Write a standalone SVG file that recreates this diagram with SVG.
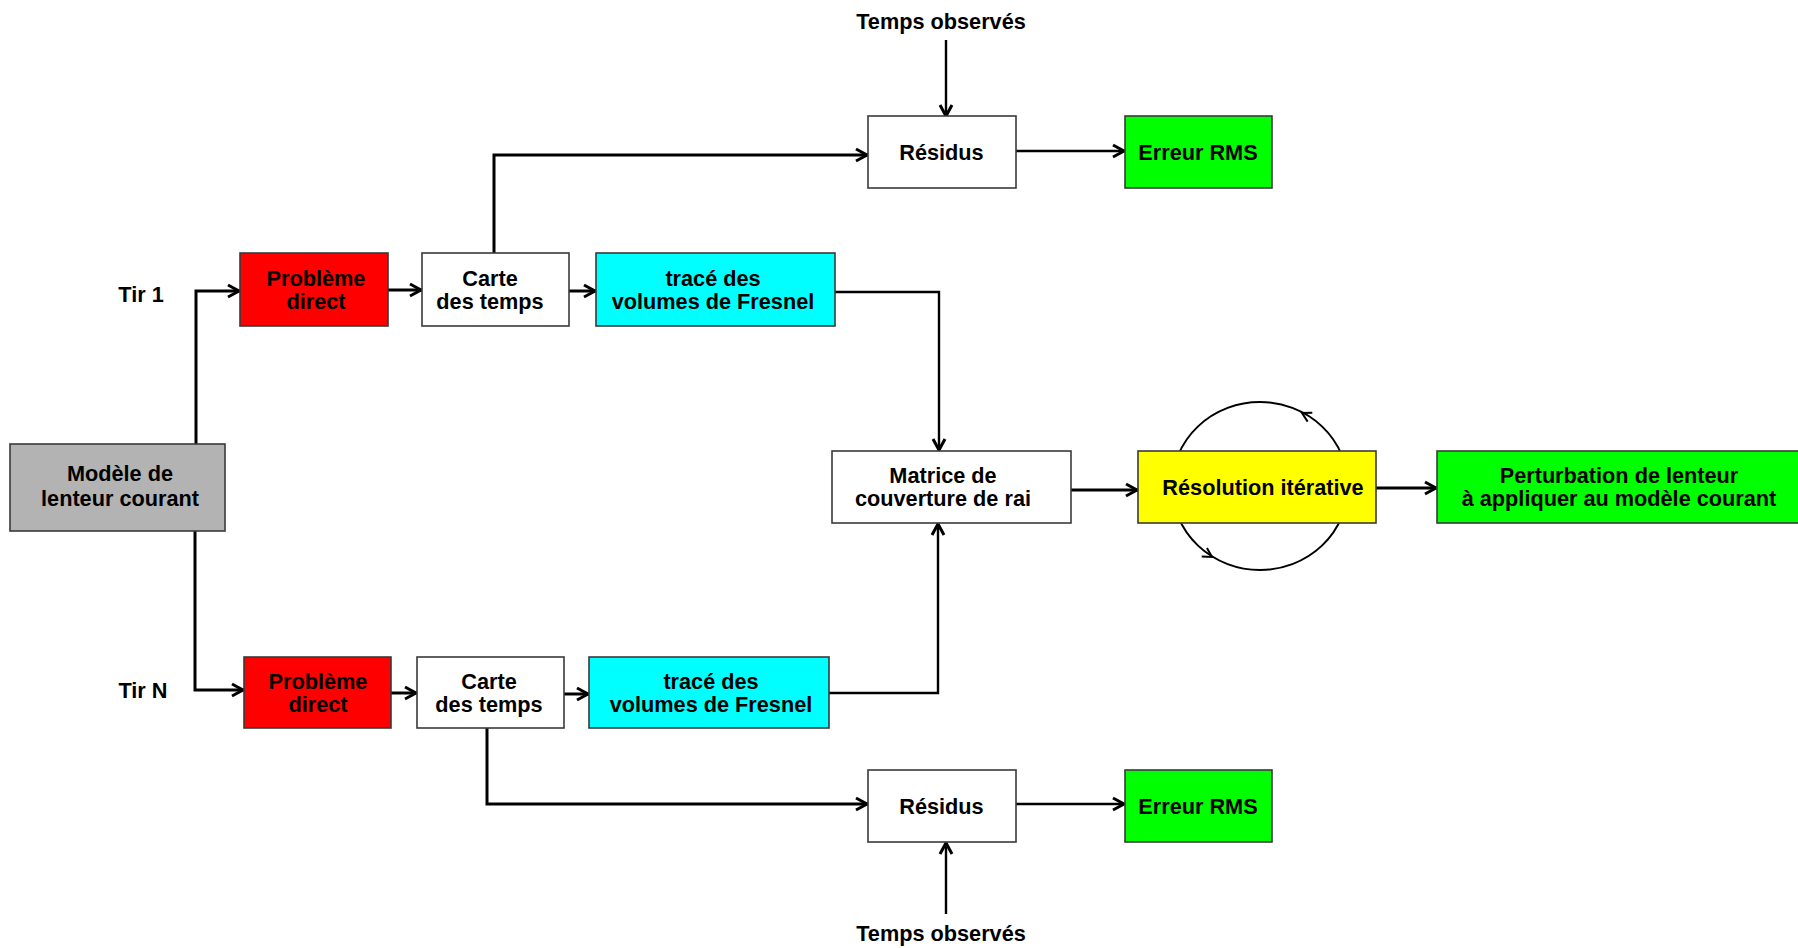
<svg xmlns="http://www.w3.org/2000/svg" width="1798" height="948" viewBox="0 0 1798 948">
<defs>
<style>
.box{stroke:#3a3a3a;stroke-width:1.6}
.t{font-family:"Liberation Sans",Arial,sans-serif;font-weight:bold;font-size:21.7px;fill:#000;text-anchor:middle}
.c{fill:none;stroke:#000;stroke-width:3}
.c2{fill:none;stroke:#000;stroke-width:2.4}
.loop{fill:none;stroke:#000;stroke-width:2}
</style>
<marker id="ah" markerUnits="userSpaceOnUse" markerWidth="20" markerHeight="20" refX="15" refY="8" orient="auto" viewBox="0 0 20 16">
<path d="M3,2 L14,8 L3,14" fill="none" stroke="#000" stroke-width="3" stroke-linejoin="miter"/>
</marker>
</defs>
<rect width="1798" height="948" fill="#fff"/>

<g id="loop">
<ellipse cx="1260" cy="486" rx="88" ry="84" class="loop"/>
<path d="M-9,-5 L0,0 L-9,5" class="loop" transform="translate(1302,413) rotate(207.6)"/>
<path d="M-9,-5 L0,0 L-9,5" class="loop" transform="translate(1212,557) rotate(31.6)"/>
</g>

<g id="connectors">
<path class="c" d="M196,444 V291 H240" marker-end="url(#ah)"/>
<path class="c" d="M195,531 V690 H244" marker-end="url(#ah)"/>
<path class="c" d="M388,290 H422" marker-end="url(#ah)"/>
<path class="c" d="M569,291 H596" marker-end="url(#ah)"/>
<path class="c" d="M494,253 V155 H868" marker-end="url(#ah)"/>
<path class="c2" d="M946,40 V117" marker-end="url(#ah)"/>
<path class="c2" d="M1016,151 H1125" marker-end="url(#ah)"/>
<path class="c2" d="M835,292 H939 V451" marker-end="url(#ah)"/>
<path class="c2" d="M829,693 H938 V523" marker-end="url(#ah)"/>
<path class="c" d="M391,693 H417" marker-end="url(#ah)"/>
<path class="c" d="M564,694 H589" marker-end="url(#ah)"/>
<path class="c" d="M487,728 V804 H868" marker-end="url(#ah)"/>
<path class="c2" d="M946,914 V842" marker-end="url(#ah)"/>
<path class="c2" d="M1016,804 H1125" marker-end="url(#ah)"/>
<path class="c" d="M1071,490 H1138" marker-end="url(#ah)"/>
<path class="c" d="M1376,488 H1437" marker-end="url(#ah)"/>
</g>

<g id="label-temps-top"><text class="t" x="941" y="28.5">Temps observés</text></g>
<g id="label-temps-bottom"><text class="t" x="941" y="941">Temps observés</text></g>
<g id="label-tir1"><text class="t" x="141" y="301.5">Tir 1</text></g>
<g id="label-tirN"><text class="t" x="143" y="697.5">Tir N</text></g>

<g id="modele">
<rect class="box" x="10" y="444" width="215" height="87" fill="#b3b3b3"/>
<text class="t" x="120" y="481">Modèle de</text>
<text class="t" x="120" y="506">lenteur courant</text>
</g>

<g id="probleme1">
<rect class="box" x="240" y="253" width="148" height="73" fill="#ff0000"/>
<text class="t" x="316" y="285.5">Problème</text>
<text class="t" x="316" y="308.5">direct</text>
</g>
<g id="carte1">
<rect class="box" x="422" y="253" width="147" height="73" fill="#ffffff"/>
<text class="t" x="490" y="285.5">Carte</text>
<text class="t" x="490" y="308.5">des temps</text>
</g>
<g id="trace1">
<rect class="box" x="596" y="253" width="239" height="73" fill="#00ffff"/>
<text class="t" x="713" y="285.5">tracé des</text>
<text class="t" x="713" y="308.5">volumes de Fresnel</text>
</g>
<g id="residus1">
<rect class="box" x="868" y="116" width="148" height="72" fill="#ffffff"/>
<text class="t" x="941.5" y="159.5">Résidus</text>
</g>
<g id="erreur1">
<rect class="box" x="1125" y="116" width="147" height="72" fill="#00ff00"/>
<text class="t" x="1198" y="159.5">Erreur RMS</text>
</g>

<g id="problemeN">
<rect class="box" x="244" y="657" width="147" height="71" fill="#ff0000"/>
<text class="t" x="318" y="688.5">Problème</text>
<text class="t" x="318" y="711.5">direct</text>
</g>
<g id="carteN">
<rect class="box" x="417" y="657" width="147" height="71" fill="#ffffff"/>
<text class="t" x="489" y="688.5">Carte</text>
<text class="t" x="489" y="711.5">des temps</text>
</g>
<g id="traceN">
<rect class="box" x="589" y="657" width="240" height="71" fill="#00ffff"/>
<text class="t" x="711" y="688.5">tracé des</text>
<text class="t" x="711" y="711.5">volumes de Fresnel</text>
</g>
<g id="residusN">
<rect class="box" x="868" y="770" width="148" height="72" fill="#ffffff"/>
<text class="t" x="941.5" y="813.5">Résidus</text>
</g>
<g id="erreurN">
<rect class="box" x="1125" y="770" width="147" height="72" fill="#00ff00"/>
<text class="t" x="1198" y="813.5">Erreur RMS</text>
</g>

<g id="matrice">
<rect class="box" x="832" y="451" width="239" height="72" fill="#ffffff"/>
<text class="t" x="943" y="482.5">Matrice de</text>
<text class="t" x="943" y="506">couverture de rai</text>
</g>
<g id="resolution">
<rect class="box" x="1138" y="451" width="238" height="72" fill="#ffff00"/>
<text class="t" x="1263" y="494.5">Résolution itérative</text>
</g>
<g id="perturbation">
<rect class="box" x="1437" y="451" width="362" height="72" fill="#00ff00"/>
<text class="t" x="1619" y="482.5">Perturbation de lenteur</text>
<text class="t" x="1619" y="506">à appliquer au modèle courant</text>
</g>
</svg>
